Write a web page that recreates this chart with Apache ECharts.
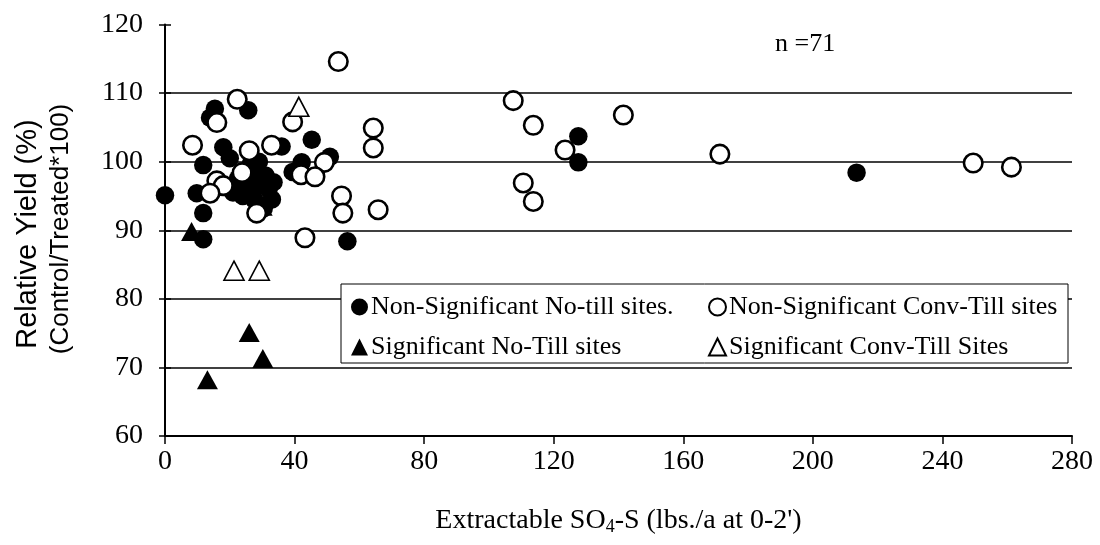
<!DOCTYPE html>
<html>
<head>
<meta charset="utf-8">
<script src="https://cdn.jsdelivr.net/npm/echarts@6/dist/echarts.min.js"></script>
<style>html,body{margin:0;padding:0;background:#fff}#c{width:1100px;height:545px}</style>
</head>
<body>
<div id="c"></div>
<script>
// Axis ticks
const xTicks = [0, 40, 80, 120, 160, 200, 240, 280];
const yTicks = [60, 70, 80, 90, 100, 110, 120];

// Non-Significant No-till sites (filled circles) [SO4-S, relative yield]
const nsNoTill = [
  [0, 95.1], [9.8, 95.4], [11.8, 99.5], [11.8, 92.5], [11.8, 88.7],
  [13.9, 106.4], [15.4, 107.7], [25.7, 107.5], [18, 102.1], [20, 100.5],
  [36, 102.2], [45.3, 103.2], [42.2, 99.9], [50.9, 100.7], [39.4, 98.5],
  [56.3, 88.4],
  [22.5, 97.5], [25, 96], [27, 98], [29, 96.5], [31, 98], [32, 96],
  [33, 94.5], [30.5, 93.2], [27.5, 94.5], [24, 95], [29, 100], [26.5, 99.7],
  [33.5, 97], [21, 95.5],
  [127.6, 103.7], [127.6, 99.9], [213.5, 98.4]
];
// Non-Significant Conv-Till sites (open circles)
const nsConvTill = [
  [22.3, 109.1], [16, 105.7], [39.4, 105.8], [8.5, 102.4], [26, 101.6],
  [32.9, 102.4], [23.8, 98.4], [16, 97.2], [18, 96.5], [13.9, 95.4],
  [28.3, 92.5], [49.2, 99.9], [42, 98.1], [46.3, 97.8], [54.5, 95],
  [54.9, 92.5], [65.8, 93], [43.2, 88.9], [53.5, 114.6], [64.3, 104.9],
  [64.3, 102], [107.5, 108.9], [113.7, 105.3], [141.5, 106.8], [123.5, 101.7],
  [110.6, 96.9], [113.7, 94.2], [171.3, 101.1], [249.5, 99.8], [261.3, 99.2]
];
// Significant No-Till sites (filled triangles)
const sigNoTill = [
  [8.2, 89.8], [26, 75.1], [30.2, 71.3], [13.1, 68.2], [30, 93.5]
];
// Significant Conv-Till Sites (open triangles)
const sigConvTill = [
  [41.3, 108], [21.3, 84.1], [29.1, 84.1]
];

const names = ['Non-Significant No-till sites.', 'Non-Significant Conv-Till sites',
               'Significant No-Till sites', 'Significant Conv-Till Sites'];

const serif = 'Liberation Serif';
const sans = 'Liberation Sans';
const chart = echarts.init(document.getElementById('c'));

function legendAt(name, icon, left, top) {
  return {
    data: [{ name: name, icon: icon }],
    left: left, top: top, orient: 'horizontal',
    itemWidth: 17, itemHeight: 17, padding: 0,
    selectedMode: false,
    textStyle: { fontFamily: serif, fontSize: 26, color: '#000', padding: [0, 0, 0, -2] },
    z: 10
  };
}

const option = {
  backgroundColor: '#fff',
  animation: false,
  grid: { left: 165, right: 28, top: 24.5, bottom: 109 },
  xAxis: {
    type: 'value', min: xTicks[0], max: xTicks[xTicks.length - 1], interval: 40,
    axisLine: { show: true, lineStyle: { color: '#000', width: 2 } },
    axisTick: { show: true, length: 8, lineStyle: { color: '#000', width: 1.5 } },
    axisLabel: { color: '#000', fontFamily: serif, fontSize: 28, margin: 12 },
    splitLine: { show: false },
    name: 'Extractable SO{sub|4}-S (lbs./a at 0-2\')',
    nameLocation: 'middle', nameGap: 70,
    nameTextStyle: {
      color: '#000', fontFamily: serif, fontSize: 28,
      rich: { sub: { fontFamily: serif, fontSize: 18, color: '#000', padding: [12, 0, 0, 0] } }
    }
  },
  yAxis: [{
    type: 'value', min: yTicks[0], max: yTicks[yTicks.length - 1], interval: 10,
    axisLine: { show: true, lineStyle: { color: '#000', width: 2 } },
    axisTick: { show: true, length: 6, lineStyle: { color: '#000', width: 1.5 } },
    axisLabel: { color: '#000', fontFamily: serif, fontSize: 28, margin: 22 },
    splitLine: { show: true, showMinLine: false, showMaxLine: false, lineStyle: { color: '#000', width: 1.5 } }
  }, {
    type: 'value', min: yTicks[0], max: yTicks[yTicks.length - 1], interval: 10,
    position: 'left',
    axisLine: { show: false },
    axisTick: { show: true, inside: true, length: 6, lineStyle: { color: '#000', width: 1.5 } },
    axisLabel: { show: false },
    splitLine: { show: false }
  }],
  legend: [
    legendAt(names[0], 'circle', 351, 294),
    legendAt(names[1], 'circle', 708, 294),
    legendAt(names[2], 'triangle', 351, 334),
    legendAt(names[3], 'triangle', 708, 334)
  ],
  graphic: [{
    type: 'rect', z: 5,
    shape: { x: 341, y: 284, width: 727, height: 79 },
    style: { fill: '#fff', stroke: '#000', lineWidth: 1 }
  }, {
    type: 'text', z: 5, left: 775, top: 31,
    style: { text: 'n =71', fontFamily: serif, fontSize: 26, fill: '#000' }
  }, {
    type: 'text', z: 5, x: 28, y: 234, rotation: Math.PI / 2,
    style: { text: 'Relative Yield (%)', fontFamily: sans, fontSize: 29, fill: '#000',
             align: 'center', verticalAlign: 'middle' }
  }, {
    type: 'text', z: 5, x: 61, y: 229, rotation: Math.PI / 2,
    style: { text: '(Control/Treated*100)', fontFamily: sans, fontSize: 26, fill: '#000',
             align: 'center', verticalAlign: 'middle' }
  }],
  series: [{
    name: names[0], type: 'scatter', data: nsNoTill, symbol: 'circle', symbolSize: 18.5,
    itemStyle: { color: '#000', opacity: 1 }, z: 2
  }, {
    name: names[1], type: 'scatter', data: nsConvTill, symbol: 'circle', symbolSize: 18.5,
    itemStyle: { color: '#fff', borderColor: '#000', borderWidth: 2.6, opacity: 1 }, z: 3
  }, {
    name: names[2], type: 'scatter', data: sigNoTill, symbol: 'triangle', symbolSize: [21, 19],
    itemStyle: { color: '#000', opacity: 1 }, z: 2
  }, {
    name: names[3], type: 'scatter', data: sigConvTill, symbol: 'triangle', symbolSize: [20, 19],
    itemStyle: { color: '#fff', borderColor: '#000', borderWidth: 1.6, opacity: 1 }, z: 3
  }]
};
chart.setOption(option);
</script>
</body>
</html>
